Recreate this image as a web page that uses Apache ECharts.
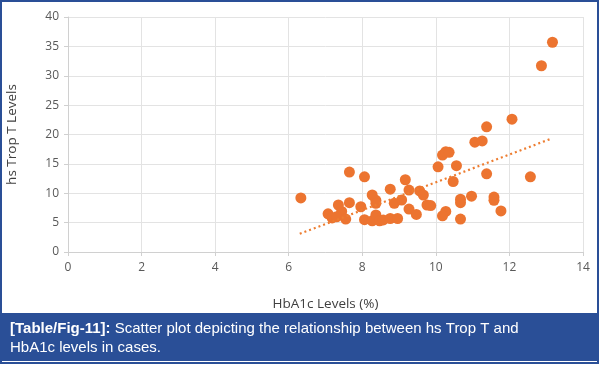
<!DOCTYPE html>
<html>
<head>
<meta charset="utf-8">
<script src="https://cdn.jsdelivr.net/npm/echarts@6/dist/echarts.min.js"></script>
<style>
html,body{margin:0;padding:0;background:#fff;}
#c{width:600px;height:365px;}
</style>
</head>
<body>
<div id="c"></div>
<script>
const hba1c = [6.33,7.65,8.06,7.07,7.18,7.35,7.44,7.30,7.55,7.65,7.96,8.06,8.27,8.37,8.37,8.27,8.37,8.47,8.57,8.76,8.76,8.96,8.87,9.07,9.17,9.27,9.27,9.47,9.56,9.66,9.76,9.86,10.06,10.18,10.27,10.36,10.56,10.47,11.06,11.26,11.38,11.38,10.97,10.67,10.67,11.58,11.58,11.77,10.27,10.18,10.67,12.07,12.57,12.87,13.17];
const tropT = [9.2,13.6,12.8,6.5,5.8,8.0,6.9,6.0,5.6,8.4,7.7,5.5,9.7,8.8,8.3,5.3,6.3,5.3,5.45,10.7,5.7,5.7,8.3,8.85,12.3,10.55,7.3,6.4,10.4,9.7,8.0,7.9,14.5,16.5,17.07,16.97,14.7,12.0,18.7,18.9,21.3,13.3,9.5,9.0,8.4,9.35,8.8,7.0,6.9,6.15,5.6,22.6,12.8,31.7,35.7];
const trendX = [6.3, 13.1];
const trendY = [3.1, 19.2];
const xTicks = [0,2,4,6,8,10,12,14];
const yTicks = [0,5,10,15,20,25,30,35,40];

const chart = echarts.init(document.getElementById('c'), null, {renderer:'canvas'});
const lab = {color:'#595959', fontFamily:'Open Sans, Liberation Sans, sans-serif', fontSize:12};
const nameStyle = {color:'#404040', fontFamily:'Open Sans, Liberation Sans, sans-serif', fontSize:13.5};
chart.setOption({
  animation:false,
  grid:{left:68, right:17, top:17, bottom:113, containLabel:false, outerBoundsMode:'none'},
  xAxis:{type:'value', min:xTicks[0], max:xTicks[xTicks.length-1], interval:2,
    name:'HbA1c Levels (%)', nameLocation:'middle', nameGap:45,
    nameTextStyle:nameStyle,
    axisLine:{show:true, lineStyle:{color:'#d0d0d0'}},
    axisTick:{show:true, length:4, lineStyle:{color:'#d0d0d0'}},
    axisLabel:Object.assign({margin:10}, lab),
    splitLine:{show:true, lineStyle:{color:'#e3e3e3'}}},
  yAxis:{type:'value', min:yTicks[0], max:yTicks[yTicks.length-1], interval:5,
    name:'hs Trop T Levels', nameLocation:'middle', nameGap:49, nameRotate:90,
    nameTextStyle:nameStyle,
    axisLine:{show:true, lineStyle:{color:'#d0d0d0'}},
    axisTick:{show:true, length:4, lineStyle:{color:'#d0d0d0'}},
    axisLabel:Object.assign({margin:9}, lab),
    splitLine:{show:true, lineStyle:{color:'#e3e3e3'}}},
  series:[
    {type:'line', data:trendX.map((x,i)=>[x,trendY[i]]), symbol:'none', z:3,
     lineStyle:{color:'#ED7D31', width:2.2, type:[2,3]}},
    {type:'scatter', data:hba1c.map((x,i)=>[x,tropT[i]]), symbolSize:11, z:2,
     itemStyle:{color:'#EC7430', opacity:1}}
  ],
  graphic:[
    {type:'rect', shape:{x:1, y:1, width:597, height:362}, style:{fill:'none', stroke:'#2a4f97', lineWidth:2}, z:10},
    {type:'rect', shape:{x:1, y:313, width:597, height:48}, style:{fill:'#2a4f97'}, z:10},
    {type:'text', left:10, top:319, z:11, style:{
      text:'{b|[Table/Fig-11]:} Scatter plot depicting the relationship between hs Trop T and\nHbA1c levels in cases.',
      fill:'#fff', fontFamily:'Liberation Sans, Arial, sans-serif', fontSize:15, lineHeight:19,
      rich:{b:{fontWeight:'bold', fill:'#fff', fontFamily:'Liberation Sans, Arial, sans-serif', fontSize:15}}}}
  ]
});
</script>
</body>
</html>
